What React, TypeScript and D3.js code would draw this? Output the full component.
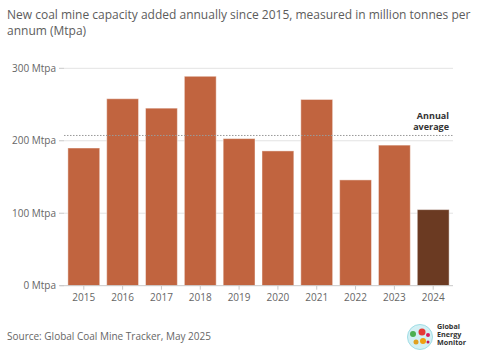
import React, { useEffect, useRef } from 'react';
import * as d3 from 'd3';

const years = ['2015', '2016', '2017', '2018', '2019', '2020', '2021', '2022', '2023', '2024'];
const capacity = [190, 258, 245, 289, 203, 186, 257, 146, 194, 105];
const yTicks = [0, 100, 200, 300];
const titleLines = [
  'New coal mine capacity added annually since 2015, measured in million tonnes per',
  'annum (Mtpa)'
];
const sourceText = 'Source: Global Coal Mine Tracker, May 2025';

const W = 486;
const H = 364;
const FONT = '"Open Sans", sans-serif';

const App = () => {
  const rootRef = useRef<SVGSVGElement>(null);

  useEffect(() => {
    const svg = d3.select(rootRef.current).attr('width', W).attr('height', H);
    svg.selectAll('*').remove();

    const x = d3.scaleBand<string>().domain(years).range([64, 453]).paddingInner(0.18).paddingOuter(0.1);
    const y = d3.scaleLinear().domain([0, 300]).range([285.7, 68.3]);

    // title
    svg
      .append('g')
      .selectAll('text')
      .data(titleLines)
      .enter()
      .append('text')
      .attr('x', 7)
      .attr('y', (_, i) => 19 + i * 16)
      .attr('font-family', FONT)
      .attr('font-size', 12)
      .attr('fill', '#5c5c5c')
      .text((d) => d);

    // gridlines + y labels
    const yAxis = svg.append('g');
    yAxis
      .selectAll('line.grid')
      .data(yTicks.filter((t) => t > 0))
      .enter()
      .append('line')
      .attr('class', 'grid')
      .attr('x1', 64)
      .attr('x2', 453)
      .attr('y1', (d) => y(d))
      .attr('y2', (d) => y(d))
      .attr('stroke', '#e3e3e3')
      .attr('stroke-width', 1);
    yAxis
      .selectAll('line.tick')
      .data(yTicks)
      .enter()
      .append('line')
      .attr('class', 'tick')
      .attr('x1', 59)
      .attr('x2', 64)
      .attr('y1', (d) => y(d))
      .attr('y2', (d) => y(d))
      .attr('stroke', '#c8c8c8');
    yAxis
      .selectAll('text')
      .data(yTicks)
      .enter()
      .append('text')
      .attr('x', 56)
      .attr('y', (d) => y(d))
      .attr('dy', '0.35em')
      .attr('text-anchor', 'end')
      .attr('font-family', FONT)
      .attr('font-size', 10)
      .attr('fill', '#666')
      .text((d) => `${d} Mtpa`);

    // bars
    svg
      .append('g')
      .selectAll('rect')
      .data(capacity)
      .enter()
      .append('rect')
      .attr('x', (_, i) => x(years[i]) as number)
      .attr('y', (d) => y(d))
      .attr('width', x.bandwidth())
      .attr('height', (d) => y(0) - y(d))
      .attr('fill', (_, i) => (i === years.length - 1 ? '#6b3a22' : '#c1643f'))
      .attr('stroke', 'rgba(255,255,255,0.45)')
      .attr('stroke-width', 1);

    // annual average
    const avg = d3.mean(capacity) as number;
    svg
      .append('line')
      .attr('x1', 64)
      .attr('x2', 453)
      .attr('y1', y(avg))
      .attr('y2', y(avg))
      .attr('stroke', '#9a9a9a')
      .attr('stroke-width', 1)
      .attr('stroke-dasharray', '1.5,1.5');
    const avgLabel = svg
      .append('text')
      .attr('text-anchor', 'end')
      .attr('font-family', FONT)
      .attr('font-size', 9)
      .attr('font-weight', 'bold')
      .attr('fill', '#333');
    avgLabel.append('tspan').attr('x', 449).attr('y', y(avg) - 16).text('Annual');
    avgLabel.append('tspan').attr('x', 449).attr('y', y(avg) - 5.5).text('average');

    // x axis
    const xAxis = svg.append('g');
    xAxis
      .append('line')
      .attr('x1', 60)
      .attr('x2', 453)
      .attr('y1', y(0))
      .attr('y2', y(0))
      .attr('stroke', '#c8c8c8');
    xAxis
      .selectAll('line.tick')
      .data(years)
      .enter()
      .append('line')
      .attr('class', 'tick')
      .attr('x1', (d) => (x(d) as number) + x.bandwidth() / 2)
      .attr('x2', (d) => (x(d) as number) + x.bandwidth() / 2)
      .attr('y1', y(0))
      .attr('y2', y(0) + 4)
      .attr('stroke', '#c8c8c8');
    xAxis
      .selectAll('text')
      .data(years)
      .enter()
      .append('text')
      .attr('x', (d) => (x(d) as number) + x.bandwidth() / 2)
      .attr('y', 301)
      .attr('text-anchor', 'middle')
      .attr('font-family', FONT)
      .attr('font-size', 10)
      .attr('fill', '#666')
      .text((d) => d);

    // source
    svg
      .append('text')
      .attr('x', 7)
      .attr('y', 340)
      .attr('font-family', FONT)
      .attr('font-size', 10)
      .attr('fill', '#666')
      .text(sourceText);

    // logo
    const logo = svg.append('g').attr('transform', 'translate(420,337)');
    logo.append('circle').attr('r', 12.5).attr('fill', '#d3f0f4');
    logo.append('circle').attr('r', 12.5).attr('fill', 'none').attr('stroke', '#9fdde6').attr('stroke-width', 1);
    const blobs: [number, number, number, string][] = [
      [-7, -3, 3, '#4caf50'],
      [-4, 5, 2.5, '#e0a020'],
      [3, 4, 3, '#f0a010'],
      [2, -5, 3.5, '#e53935'],
      [8, -2, 2, '#d81b60'],
      [8, 5, 1.5, '#c2185b']
    ];
    logo
      .selectAll('circle.blob')
      .data(blobs)
      .enter()
      .append('circle')
      .attr('class', 'blob')
      .attr('cx', (d) => d[0])
      .attr('cy', (d) => d[1])
      .attr('r', (d) => d[2])
      .attr('fill', (d) => d[3]);
    const logoText = svg
      .append('text')
      .attr('font-family', FONT)
      .attr('font-size', 7.2)
      .attr('font-weight', 'bold')
      .attr('fill', '#333');
    ['Global', 'Energy', 'Monitor'].forEach((t, i) => {
      logoText.append('tspan').attr('x', 437).attr('y', 329 + i * 7.8).text(t);
    });
  }, []);

  return <svg ref={rootRef} style={{ position: 'absolute', left: 0, top: 0 }}></svg>;
};

export default App;
